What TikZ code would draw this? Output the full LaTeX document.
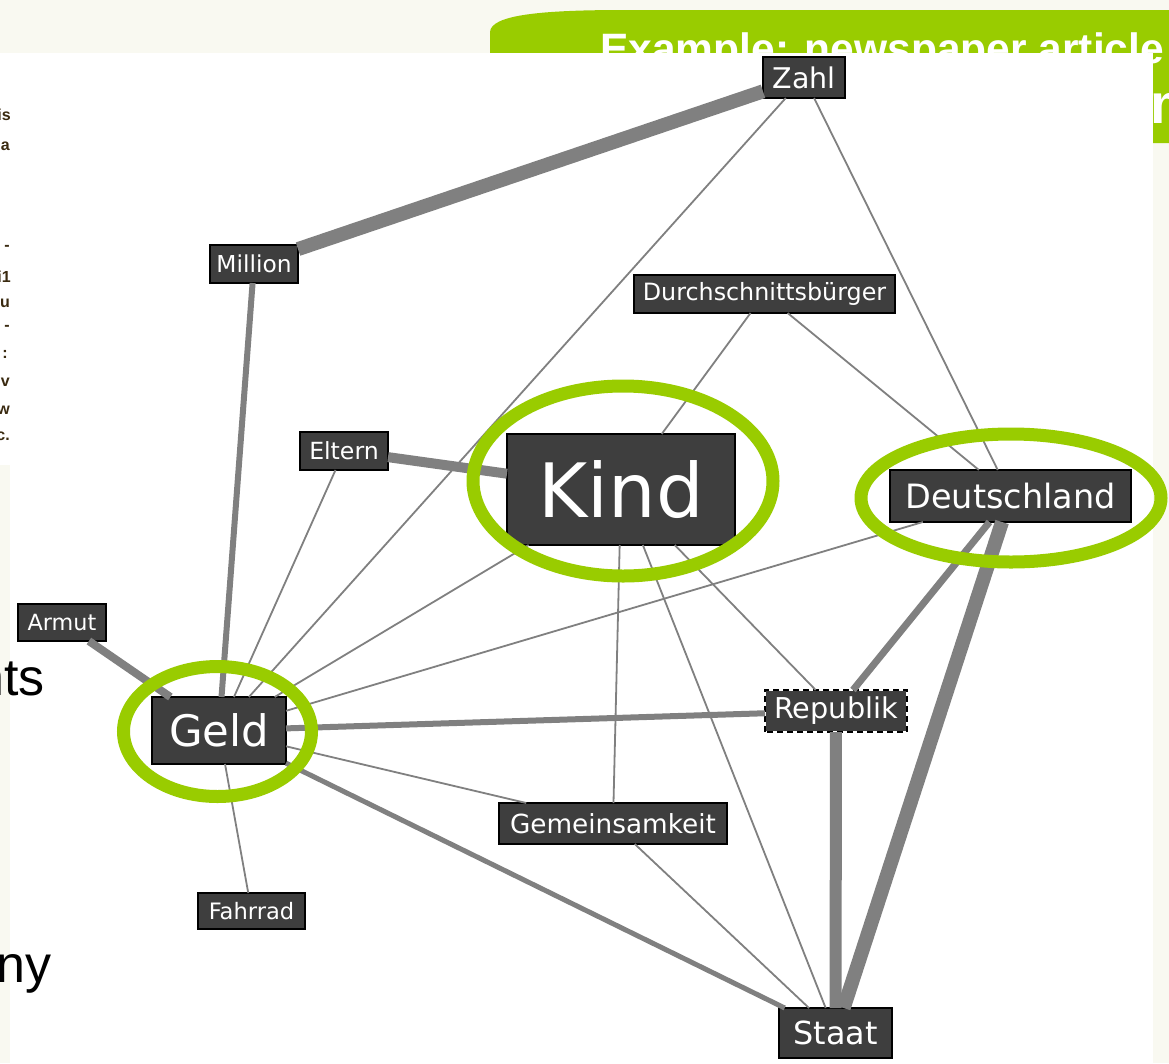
\documentclass[tikz,border=0pt]{standalone}
\usepackage{fontspec}
\setmainfont{DejaVu Sans}
\newfontfamily\slidefont{Liberation Sans}
\definecolor{cream}{HTML}{F9F9F1}
\definecolor{leaf}{HTML}{99CC00}
\definecolor{boxfill}{HTML}{3E3E3E}
\definecolor{edgegray}{HTML}{808080}
\definecolor{inkbrown}{HTML}{3A2A10}

\begin{document}
\begin{tikzpicture}[x=1pt,y=-1pt,
  term/.style n args={3}{draw=black, line width=1.6pt, fill=boxfill, text=white,
    inner sep=0pt, outer sep=0pt, minimum width=#1pt, minimum height=#2pt,
    font=\fontsize{#3}{#3}\selectfont},
  link/.style={draw=edgegray, line width=#1},
  link/.default=1.8pt,
  ring/.style={draw=leaf, line width=13pt},
  slidetext/.style={inner sep=0pt, anchor=base east, text=black,
    font=\slidefont\fontsize{52}{52}\selectfont},
  scrap/.style={inner sep=0pt, anchor=base east, text=inkbrown,
    font=\slidefont\bfseries\fontsize{16}{16}\selectfont}
]
\useasboundingbox (0,0) rectangle (1169,1063);
\fill[cream] (0,0) rectangle (1169,1063);

% title banner of the slide underneath
\fill[leaf] (490,143) -- (490,32) .. controls (491,15) and (540,10) .. (625,10)
  -- (1169,10) -- (1169,143) -- cycle;
\node[inner sep=0pt, anchor=base west, text=white,
  font=\slidefont\bfseries\fontsize{42.5}{42.5}\selectfont] (title) at (600,63)
  {Example: newspaper article};
\node[inner sep=0pt, anchor=base west, text=white,
  font=\slidefont\bfseries\fontsize{56}{56}\selectfont] (subtitle) at (1150,123) {m};

% white panels
\fill[white] (0,53) rectangle (1153,465);
\fill[white] (10,53) rectangle (1153,1063);

% cut-off article lines at the left edge
\begin{scope}
  \clip (0,53) rectangle (10,465);
  \node[scrap] (s1) at (11,120) {this};
  \node[scrap] (s2) at (10,150) {da};
  \node[scrap] (s3) at (10,250) {- -};
  \node[scrap] (s4) at (11,282) {i1};
  \node[scrap] (s5) at (10,307) {ou};
  \node[scrap] (s6) at (10,330) {i -};
  \node[scrap] (s7) at (8,358) {:};
  \node[scrap] (s8) at (10,386) {v};
  \node[scrap] (s9) at (10,414) {w};
  \node[scrap] (s10) at (10,440) {c.};
\end{scope}

% bullet text fragments of the slide
\node[slidetext] (frag1) at (45,695) {nts};
\node[slidetext] (frag2) at (52,982) {ny};

% terms
\node[term={82}{41}{28.5}] (zahl) at (804,77.5) {Zahl};
\node[term={88}{38}{23.3}] (million) at (254,264) {Million};
\node[term={261}{38}{23.8}] (durch) at (764.5,294) {Durchschnittsbürger};
\node[term={88}{38}{23.6}] (eltern) at (344,451) {Eltern};
\node[term={228}{111}{75}] (kind) at (621,489.5) {Kind};
\node[term={241}{52}{33.5}] (de) at (1010.5,496) {Deutschland};
\node[term={88}{37}{22.3}] (armut) at (62,622.5) {Armut};
\node[term={134}{67}{43.4}] (geld) at (219,730.5) {Geld};
\node[term={142}{42}{28.7}, draw=white] (rep) at (836,711) {Republik};
\node[term={228}{41}{26.3}] (gem) at (613,823.5) {Gemeinsamkeit};
\node[term={107}{36}{22.6}] (fahrrad) at (251.5,911) {Fahrrad};
\node[term={113}{50}{31.8}] (staat) at (835.5,1033) {Staat};
\draw[black, line width=1.6pt, dash pattern=on 6pt off 4pt]
  (rep.south west) rectangle (rep.north east);

% co-occurrence links
\draw[link=14pt] (zahl) -- (million);
\draw[link] (zahl) -- (geld);
\draw[link] (zahl) -- (de);
\draw[link] (durch) -- (kind);
\draw[link] (durch) -- (de);
\draw[link=10pt] (eltern) -- (kind);
\draw[link] (eltern) -- (geld);
\draw[link=6pt] (million) -- (geld);
\draw[link] (kind) -- (geld);
\draw[link] (kind) -- (gem);
\draw[link] (kind) -- (staat);
\draw[link] (kind) -- (rep);
\draw[link] (de) -- (geld);
\draw[link=7pt] (de) -- (rep);
\draw[link=14pt] (de) -- (staat);
\draw[link=6pt] (rep) -- (geld);
\draw[link=12pt] (rep) -- (staat);
\draw[link] (geld) -- (gem);
\draw[link=5pt] (geld) -- (staat);
\draw[link] (geld) -- (fahrrad);
\draw[link=8pt] (armut) -- (geld);
\draw[link] (gem) -- (staat);

% highlight rings
\draw[ring] (623,481) ellipse [x radius=150pt, y radius=95pt];
\draw[ring] (1011,498) ellipse [x radius=150pt, y radius=64pt];
\draw[ring] (217.5,731.5) ellipse [x radius=94pt, y radius=65pt];
\end{tikzpicture}
\end{document}
